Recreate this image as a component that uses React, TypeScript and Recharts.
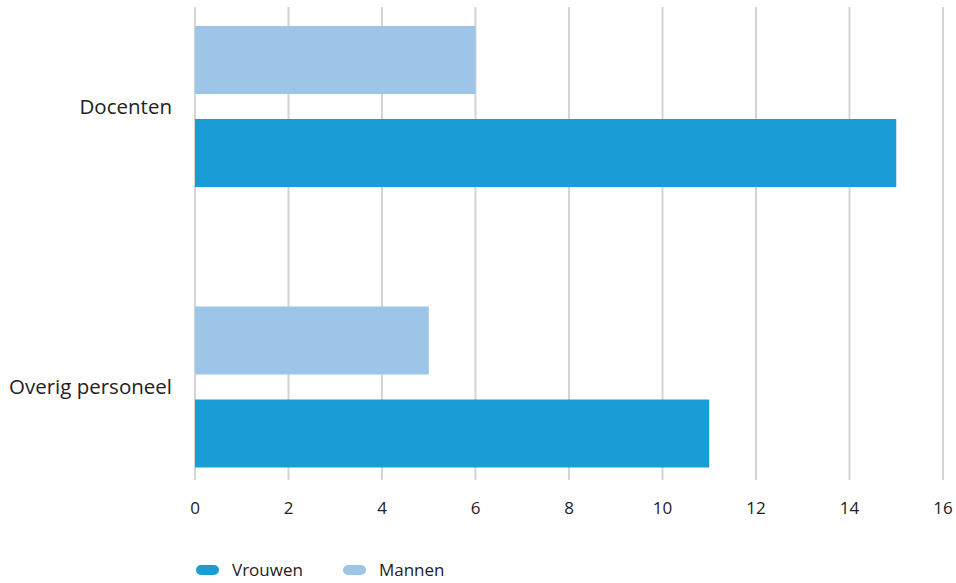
import React from 'react'
import { BarChart, Bar, XAxis, YAxis, CartesianGrid, Legend } from 'recharts'

const categories = ['Docenten', 'Overig personeel']
const mannen = [6, 5]
const vrouwen = [15, 11]
const xTicks = [0, 2, 4, 6, 8, 10, 12, 14, 16]

const DARK = '#1a9dd6'
const LIGHT = '#9cc5e8'
const FONT = '"Open Sans", "Noto Sans", sans-serif'

const data = categories.map((name, i) => ({
  name,
  mannen: mannen[i],
  vrouwen: vrouwen[i],
}))

// legend shows Vrouwen first, the way the original does
const legendItems = [
  { label: 'Vrouwen', color: DARK },
  { label: 'Mannen', color: LIGHT },
]

const renderLegend = () => (
  <div style={{ height: 55, display: 'flex', alignItems: 'center', paddingLeft: 196, paddingTop: 28, boxSizing: 'border-box', fontFamily: FONT, fontSize: 17, color: '#222' }}>
    {legendItems.map((item) => (
      <div key={item.label} style={{ display: 'flex', alignItems: 'center', marginRight: 40 }}>
        <span style={{ display: 'inline-block', width: 23, height: 10, borderRadius: 5, background: item.color, marginRight: 13 }} />
        <span>{item.label}</span>
      </div>
    ))}
  </div>
)

const App: React.FC = () => {
  return (
    <div style={{ position: 'absolute', left: 0, top: 0, background: '#fff' }}>
      <BarChart
        width={956}
        height={583}
        data={data}
        layout="vertical"
        margin={{ top: 7, right: 13, bottom: 0, left: 0 }}
        barSize={68}
        barGap={25}
      >
        <CartesianGrid horizontal={false} stroke="#d4d4d4" strokeWidth={2} />
        <XAxis
          type="number"
          domain={[0, 16]}
          ticks={xTicks}
          axisLine={false}
          tickLine={{ stroke: '#d4d4d4', strokeWidth: 2 }}
          tickSize={12}
          tickMargin={22}
          height={60}
          tick={{ fill: '#222', fontSize: 17, fontFamily: FONT }}
        />
        <YAxis
          type="category"
          dataKey="name"
          width={195}
          axisLine={false}
          tickLine={false}
          tickSize={0}
          tickMargin={23}
          padding={{ top: -41, bottom: -59 }}
          tick={{ fill: '#222', fontSize: 20.5, fontFamily: FONT }}
        />
        <Legend verticalAlign="bottom" content={renderLegend} />
        <Bar dataKey="mannen" name="Mannen" fill={LIGHT} isAnimationActive={false} />
        <Bar dataKey="vrouwen" name="Vrouwen" fill={DARK} isAnimationActive={false} />
      </BarChart>
    </div>
  )
}

export default App
